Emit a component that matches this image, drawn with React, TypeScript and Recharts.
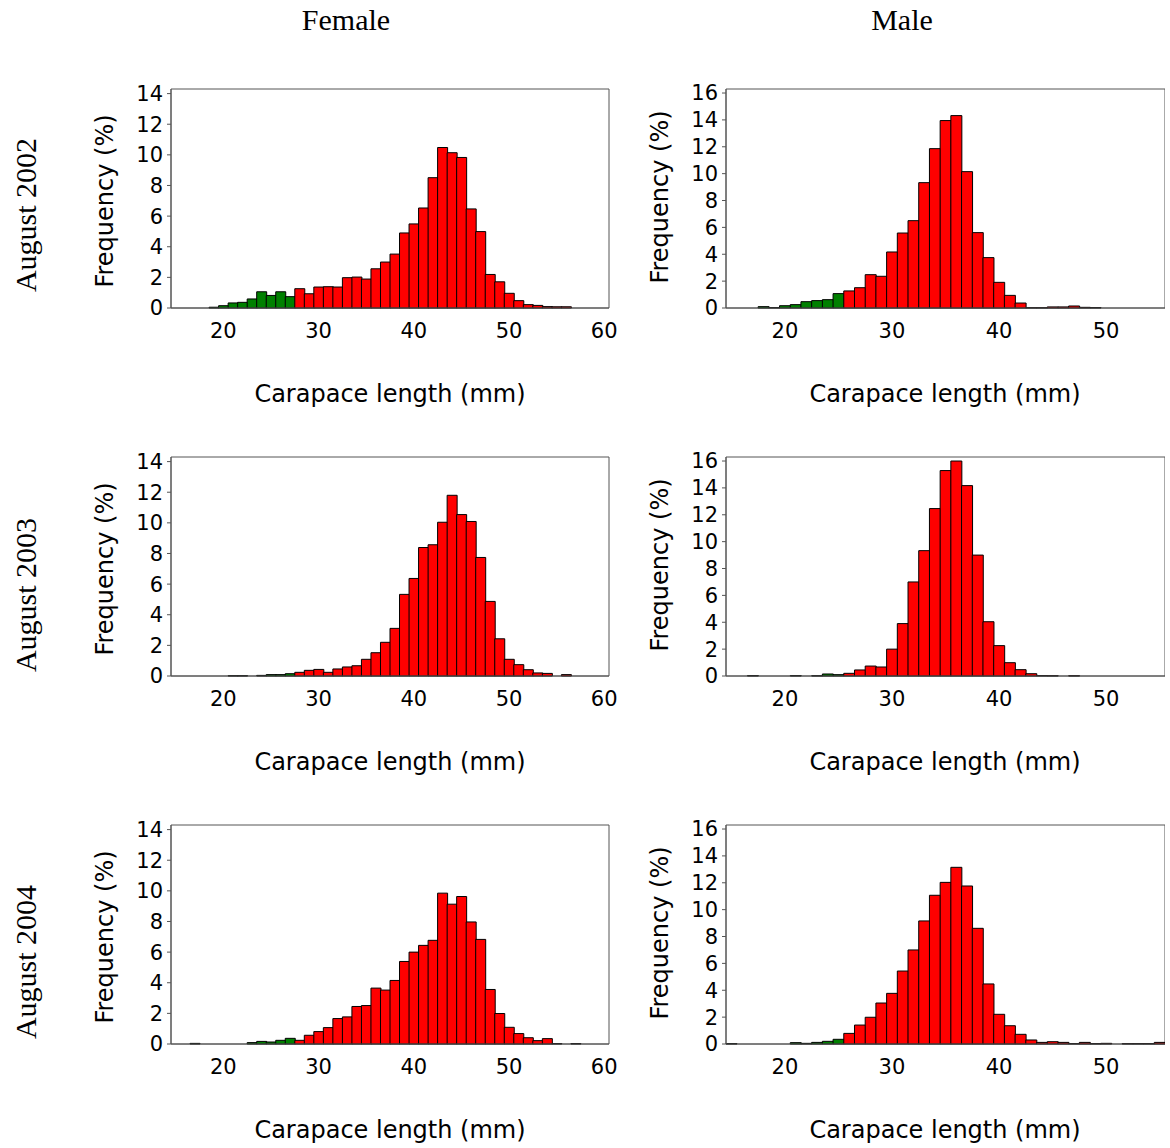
import React from "react";
import { Bar, BarChart, Cell, ReferenceArea, XAxis, YAxis } from "recharts";

// carapace length bins (mm), bars centred on the integer
const femaleBins = [
  15, 16, 17, 18, 19, 20, 21, 22, 23, 24, 25, 26, 27, 28, 29, 30, 31, 32, 33, 34, 35, 36, 37,
  38, 39, 40, 41, 42, 43, 44, 45, 46, 47, 48, 49, 50, 51, 52, 53, 54, 55, 56, 57, 58, 59, 60
];
const maleBins = [
  15, 16, 17, 18, 19, 20, 21, 22, 23, 24, 25, 26, 27, 28, 29, 30, 31, 32, 33, 34, 35, 36, 37,
  38, 39, 40, 41, 42, 43, 44, 45, 46, 47, 48, 49, 50, 51, 52, 53, 54, 55
];

// frequency (%) per bin
const female2002 = [
  0, 0, 0, 0, 0.05, 0.15, 0.33, 0.37, 0.59, 1.06, 0.82, 1.06, 0.74, 1.26, 0.93, 1.37, 1.39, 1.37,
  1.98, 2.02, 1.89, 2.56, 3.0, 3.52, 4.9, 5.49, 6.53, 8.51, 10.48, 10.14, 9.83, 6.47, 4.99, 2.19,
  1.71, 0.96, 0.48, 0.22, 0.17, 0.09, 0.08, 0.08, 0, 0, 0, 0
];
const female2003 = [
  0, 0, 0, 0, 0, 0, 0.02, 0.02, 0, 0.04, 0.09, 0.09, 0.15, 0.24, 0.37, 0.43, 0.24, 0.46, 0.59,
  0.67, 1.09, 1.52, 2.2, 3.11, 5.33, 6.37, 8.39, 8.57, 10.04, 11.8, 10.54, 10.09, 7.74, 4.87,
  2.43, 1.09, 0.74, 0.41, 0.2, 0.17, 0, 0.09, 0, 0, 0, 0
];
const female2004 = [
  0, 0, 0.04, 0, 0, 0, 0, 0, 0.09, 0.17, 0.13, 0.24, 0.37, 0.24, 0.57, 0.81, 1.07, 1.66, 1.77,
  2.45, 2.51, 3.65, 3.52, 4.15, 5.39, 6.0, 6.44, 6.77, 9.85, 9.13, 9.63, 7.97, 6.83, 3.56, 1.99,
  1.09, 0.68, 0.41, 0.22, 0.35, 0.03, 0, 0.03, 0, 0, 0
];
const male2002 = [
  0, 0, 0, 0.1, 0.03, 0.17, 0.25, 0.47, 0.55, 0.62, 1.07, 1.27, 1.51, 2.48, 2.36, 4.17, 5.58,
  6.5, 9.33, 11.86, 13.95, 14.32, 10.15, 5.61, 3.75, 1.91, 0.94, 0.37, 0.02, 0.02, 0.08, 0.08,
  0.15, 0.05, 0.03, 0, 0, 0, 0, 0, 0
];
const male2003 = [
  0, 0, 0.03, 0, 0, 0, 0.03, 0, 0.02, 0.15, 0.1, 0.2, 0.45, 0.74, 0.67, 2.0, 3.9, 7.0, 9.33,
  12.46, 15.29, 16.0, 14.17, 9.0, 4.04, 2.26, 0.99, 0.47, 0.17, 0.03, 0.02, 0, 0.02, 0, 0, 0, 0,
  0, 0, 0, 0
];
const male2004 = [
  0.03, 0, 0, 0, 0, 0, 0.1, 0.05, 0.12, 0.2, 0.35, 0.79, 1.41, 1.99, 3.05, 3.77, 5.43, 7.0, 9.16,
  11.07, 12.03, 13.15, 11.76, 8.61, 4.47, 2.21, 1.36, 0.72, 0.3, 0.12, 0.17, 0.12, 0.03, 0.12,
  0.03, 0.05, 0, 0.03, 0.03, 0.03, 0.12
];

// bins below the cutoff are drawn green
const femaleCutoff = 28;
const maleCutoff = 26;

const femaleTicksX = [20, 30, 40, 50, 60];
const maleTicksX = [20, 30, 40, 50];
const femaleTicksY = [0, 2, 4, 6, 8, 10, 12, 14];
const maleTicksY = [0, 2, 4, 6, 8, 10, 12, 14, 16];
const femaleYMax = 14.3;
const maleYMax = 16.3;

const rowLabels = ["August 2002", "August 2003", "August 2004"];
const femaleRows = [female2002, female2003, female2004];
const maleRows = [male2002, male2003, male2004];

const RED = "#ff0000";
const GREEN = "#008000";
const AXIS = "#555";
const sans = "'DejaVu Sans', sans-serif";
const serif = "'Liberation Serif', 'Times New Roman', serif";
const ROW_STEP = 368;

type HistProps = {
  bins: number[];
  values: number[];
  cutoff: number;
  yMax: number;
  yTicks: number[];
  xTicks: number[];
  left: number;
  top: number;
  width: number;
  marginRight: number;
};

function Histogram({ bins, values, cutoff, yMax, yTicks, xTicks, left, top, width, marginRight }: HistProps) {
  const data = bins.map((mm, i) => ({ mm, pct: values[i] }));
  const tickStyle = { fontFamily: sans, fontSize: 21, fill: "#000" };
  return (
    <div style={{ position: "absolute", left, top }}>
      <BarChart
        width={width}
        height={275}
        data={data}
        margin={{ top: 9, right: marginRight, bottom: 0, left: 0 }}
        barCategoryGap={0}
        barGap={0}
      >
        <XAxis
          dataKey="mm"
          type="category"
          ticks={xTicks}
          interval={0}
          height={47}
          tickLine={false}
          tickSize={11}
          tickMargin={4}
          axisLine={{ stroke: AXIS }}
          tick={tickStyle}
        />
        <YAxis
          type="number"
          domain={[0, yMax]}
          ticks={yTicks}
          interval={0}
          width={111}
          tickSize={4}
          tickMargin={4}
          axisLine={{ stroke: AXIS }}
          tickLine={{ stroke: AXIS }}
          tick={tickStyle}
        />
        <ReferenceArea
          x1={bins[0]}
          x2={bins[bins.length - 1]}
          y1={0}
          y2={yMax}
          fill="none"
          stroke={AXIS}
          ifOverflow="visible"
        />
        <Bar dataKey="pct" isAnimationActive={false} stroke="#000" strokeWidth={1}>
          {data.map((d) => (
            <Cell key={d.mm} fill={d.mm < cutoff ? GREEN : RED} />
          ))}
        </Bar>
      </BarChart>
    </div>
  );
}

function TextAt({ x, y, size, family, rotate, children }: any) {
  return (
    <div
      style={{
        position: "absolute",
        left: x,
        top: y,
        transform: `translate(-50%, -50%)${rotate ? " rotate(-90deg)" : ""}`,
        fontFamily: family,
        fontSize: size,
        lineHeight: 1,
        whiteSpace: "nowrap",
        color: "#000"
      }}
    >
      {children}
    </div>
  );
}

export default function App() {
  return (
    <div
      style={{
        position: "absolute",
        left: 0,
        top: 0,
        width: 1170,
        height: 1148,
        overflow: "hidden",
        background: "#fff"
      }}
    >
      <TextAt x={346} y={20} size={30} family={serif}>Female</TextAt>
      <TextAt x={902} y={20} size={30} family={serif}>Male</TextAt>

      {rowLabels.map((label, r) => (
        <React.Fragment key={label}>
          <TextAt x={26} y={[215, 595, 962][r]} size={30} family={serif} rotate>
            {label}
          </TextAt>
          <TextAt x={105} y={201 + r * ROW_STEP} size={24} family={sans} rotate>
            Frequency (%)
          </TextAt>
          <TextAt x={660} y={197 + r * ROW_STEP} size={24} family={sans} rotate>
            Frequency (%)
          </TextAt>
          <TextAt x={390} y={394 + r * ROW_STEP} size={24} family={sans}>
            Carapace length (mm)
          </TextAt>
          <TextAt x={945} y={394 + r * ROW_STEP} size={24} family={sans}>
            Carapace length (mm)
          </TextAt>
          <Histogram
            bins={femaleBins}
            values={femaleRows[r]}
            cutoff={femaleCutoff}
            yMax={femaleYMax}
            yTicks={femaleTicksY}
            xTicks={femaleTicksX}
            left={60}
            top={80 + r * ROW_STEP}
            width={565}
            marginRight={16}
          />
          <Histogram
            bins={maleBins}
            values={maleRows[r]}
            cutoff={maleCutoff}
            yMax={maleYMax}
            yTicks={maleTicksY}
            xTicks={maleTicksX}
            left={615}
            top={80 + r * ROW_STEP}
            width={550}
            marginRight={0}
          />
        </React.Fragment>
      ))}
    </div>
  );
}
